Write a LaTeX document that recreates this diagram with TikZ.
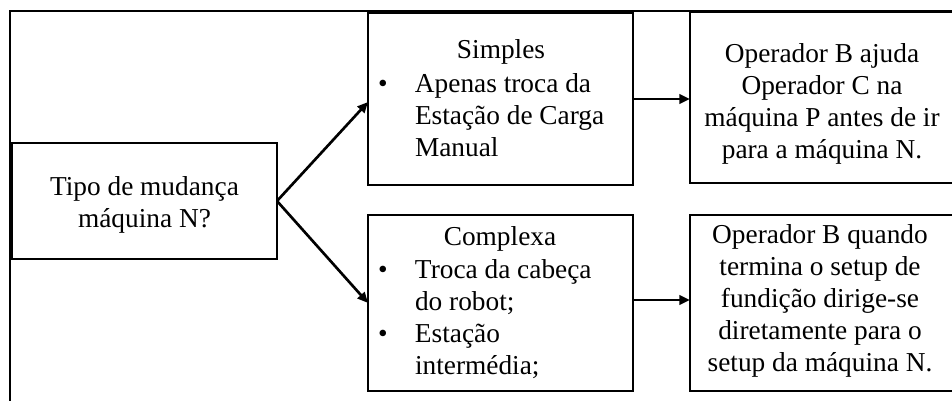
\documentclass[tikz,border=0pt]{standalone}
\usepackage{fontspec}
\setmainfont{Liberation Serif}
\usetikzlibrary{arrows.meta}
% bullet and hanging indent for the list items
\newcommand\lstbul{\makebox[27.75pt][l]{•}}
\newcommand\lstind{\hspace*{27.75pt}}
\begin{document}
\begin{tikzpicture}[x=0.75pt,y=-0.75pt,
  box/.style={draw,line width=1.1pt,inner sep=0pt,outer sep=0pt},
  txt/.style={inner sep=0pt,outer sep=0pt,font=\fontsize{20.5}{24}\selectfont},
  link/.style={line width=2pt,-{Triangle[length=8pt,width=7pt]}},
]
\useasboundingbox (0,0) rectangle (952,400);
\clip (0,0) rectangle (952,400);
% outer frame
\draw[line width=1.8pt] (10,11) rectangle (990,430);

% boxes
\node[box,minimum width=198.75pt,minimum height=87pt]    (tipo)     at (144.5,201) {};
\node[box,minimum width=198.75pt,minimum height=129pt]   (simples)  at (500.5,99)  {};
\node[box,minimum width=198.75pt,minimum height=132pt]   (complexa) at (500.5,303) {};
\node[box,minimum width=210pt,minimum height=128.25pt]   (opA)      at (830,97.5)  {};
\node[box,minimum width=210pt,minimum height=132pt]      (opB)      at (830,303)   {};

% texts
\node[txt,anchor=north,align=center] (tipoTxt) at (144.5,172.6)
  {\strut Tipo de mudança\\ máquina N?\strut};
\node[txt,anchor=base] (simplesTit) at (501,58) {Simples};
\node[txt,anchor=north west,align=left] (simplesList) at (378,69.6)
  {\strut\lstbul Apenas troca da\\ \lstind Estação de Carga\\ \lstind Manual\strut};
\node[txt,anchor=base] (complexaTit) at (500,245) {Complexa};
\node[txt,anchor=north west,align=left] (complexaList) at (378,255.6)
  {\strut\lstbul Troca da cabeça\\ \lstind do robot;\\ \lstbul Estação\\ \lstind intermédia;\strut};
\node[txt,anchor=north,align=center] (opATxt) at (822,39.6)
  {\strut Operador B ajuda\\ Operador C na\\ máquina P antes de ir\\ para a máquina N.\strut};
\node[txt,anchor=north,align=center] (opBTxt) at (820,220.6)
  {\strut Operador B quando\\ termina o setup de\\ fundição dirige-se\\ diretamente para o\\ setup da máquina N.\strut};

% connectors
\draw[link] (tipo.east) -- ([yshift=-2.25pt]simples.west);
\draw[link] (tipo.east) -- (complexa.west);
\draw[link] (simples.east) -- (simples.east -| opA.west);
\draw[link] ([yshift=2.25pt]complexa.east) -- ([yshift=2.25pt]complexa.east -| opB.west);
\end{tikzpicture}
\end{document}
